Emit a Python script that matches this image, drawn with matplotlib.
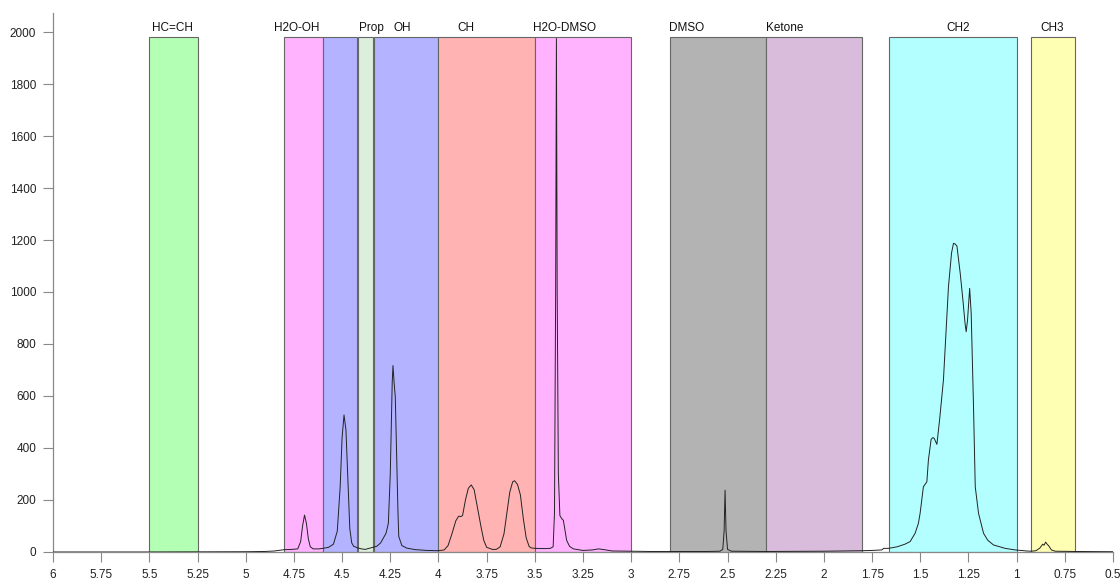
import matplotlib
matplotlib.use("Agg")
import matplotlib.pyplot as plt
from matplotlib.patches import Rectangle

plt.rcParams['font.family'] = ['Liberation Sans', 'DejaVu Sans']

# regions (ppm start, ppm end), fill colour, label and label position
reg_start = [5.5, 4.8, 4.6, 4.415, 4.335, 4.0, 3.5, 2.8, 2.3, 1.665, 0.925]
reg_end = [5.25, 4.6, 4.425, 4.34, 4.0, 3.5, 3.0, 2.3, 1.8, 1.0, 0.7]
reg_color = ['#b3ffb3', '#ffb3ff', '#b3b3ff', '#dcefdc', '#b3b3ff', '#ffb3b3',
             '#ffb3ff', '#b3b3b3', '#d9bcdb', '#b3ffff', '#ffffb3']
reg_top = 1980

labels = ['HC=CH', 'H2O-OH', 'Prop', 'OH', 'CH', 'H2O-DMSO', 'DMSO', 'Ketone', 'CH2', 'CH3']
label_x = [5.38, 4.735, 4.35, 4.19, 3.86, 3.345, 2.715, 2.205, 1.305, 0.815]

# spectrum
ppm = [6.0, 5.5, 5.0, 4.9, 4.85, 4.82, 4.80, 4.76, 4.73, 4.715, 4.705, 4.695, 4.685,
       4.675, 4.665, 4.65, 4.62, 4.60, 4.57, 4.545, 4.525, 4.51, 4.50, 4.49, 4.48,
       4.47, 4.46, 4.45, 4.44, 4.42, 4.40, 4.38, 4.36, 4.34, 4.32, 4.30, 4.285,
       4.272, 4.26, 4.25, 4.24, 4.236, 4.23, 4.224, 4.218, 4.21, 4.206, 4.19, 4.165,
       4.12, 4.06, 4.0, 3.97, 3.95, 3.93, 3.91, 3.895, 3.885, 3.875, 3.86, 3.845,
       3.83, 3.815, 3.80, 3.78, 3.765, 3.75, 3.72, 3.70, 3.68, 3.66, 3.645, 3.63,
       3.615, 3.605, 3.59, 3.575, 3.56, 3.545, 3.53, 3.52, 3.50, 3.45, 3.42, 3.405,
       3.398, 3.392, 3.388, 3.384, 3.378, 3.37, 3.36, 3.352, 3.345, 3.335, 3.32,
       3.30, 3.25, 3.20, 3.17, 3.14, 3.10, 3.0, 2.9, 2.6, 2.54, 2.525, 2.518, 2.513,
       2.508, 2.50, 2.48, 2.3, 2.0, 1.80, 1.75, 1.70, 1.69, 1.665, 1.62, 1.58, 1.553,
       1.527, 1.51, 1.501, 1.484, 1.466, 1.458, 1.444, 1.435, 1.428, 1.414, 1.40,
       1.38, 1.354, 1.338, 1.328, 1.32, 1.31, 1.293, 1.279, 1.268, 1.262, 1.255,
       1.244, 1.236, 1.224, 1.215, 1.198, 1.172, 1.15, 1.12, 1.06, 1.008, 0.95,
       0.925, 0.90, 0.88, 0.865, 0.858, 0.85, 0.84, 0.835, 0.82, 0.80, 0.7, 0.5]
intensity = [0, 0, 1, 2, 4, 7, 9, 10, 12, 40, 100, 142, 110,
             50, 20, 12, 12, 14, 18, 30, 80, 250, 440, 527, 470,
             280, 90, 35, 22, 16, 12, 10, 14, 18, 22, 35, 55,
             72, 110, 300, 650, 717, 650, 597, 400, 150, 60, 25, 15,
             9, 6, 5, 8, 25, 70, 120, 138, 136, 140, 200, 245,
             258, 240, 180, 100, 45, 18, 10, 10, 20, 70, 150, 230,
             270, 274, 260, 220, 130, 55, 22, 16, 14, 13, 14, 20,
             150, 1000, 1975, 1000, 300, 140, 128, 122, 90, 45, 22,
             12, 6, 8, 12, 9, 4, 3, 2, 2, 3, 10, 80, 238,
             80, 10, 3, 2, 3, 5, 6, 8, 14, 14, 20, 30, 40,
             72, 110, 149, 251, 270, 354, 433, 440, 437, 414, 508,
             662, 1020, 1150, 1187, 1185, 1177, 1072, 969, 880, 847, 892,
             1014, 918, 559, 251, 149, 72, 45, 27, 14, 8, 4,
             3, 5, 15, 30, 26, 38, 28, 25, 8, 3, 2, 1]

x_ticks = [6, 5.75, 5.5, 5.25, 5, 4.75, 4.5, 4.25, 4, 3.75, 3.5, 3.25, 3,
           2.75, 2.5, 2.25, 2, 1.75, 1.5, 1.25, 1, 0.75, 0.5]
y_ticks = [0, 200, 400, 600, 800, 1000, 1200, 1400, 1600, 1800, 2000]

fig = plt.figure(figsize=(11.2, 5.84), dpi=100)
ax = fig.add_axes([0.0473, 0.0548, 0.9465, 0.9229])

ax.plot(ppm, intensity, color='#222222', lw=0.7, zorder=3)

for x0, x1, c in zip(reg_start, reg_end, reg_color):
    ax.add_patch(Rectangle((x1, 0), x0 - x1, reg_top, facecolor=c,
                           edgecolor='#666666', lw=0.8, zorder=2))

for lab, lx in zip(labels, label_x):
    ax.text(lx, reg_top + 12, lab, ha='center', va='bottom', fontsize=8.5, color='#111111')

ax.set_xlim(6, 0.5)
ax.set_ylim(0, 2073)
ax.set_xticks(x_ticks)
ax.set_xticklabels([f'{t:g}' for t in x_ticks])
ax.set_yticks(y_ticks)

for s in ['top', 'right']:
    ax.spines[s].set_visible(False)
for s in ['left', 'bottom']:
    ax.spines[s].set_color('#888888')
    ax.spines[s].set_linewidth(0.9)
ax.tick_params(axis='both', direction='out', length=7, width=0.8, color='#888888',
               labelsize=8.5, labelcolor='#222222', pad=5)

fig.savefig('out.png', dpi=100)
